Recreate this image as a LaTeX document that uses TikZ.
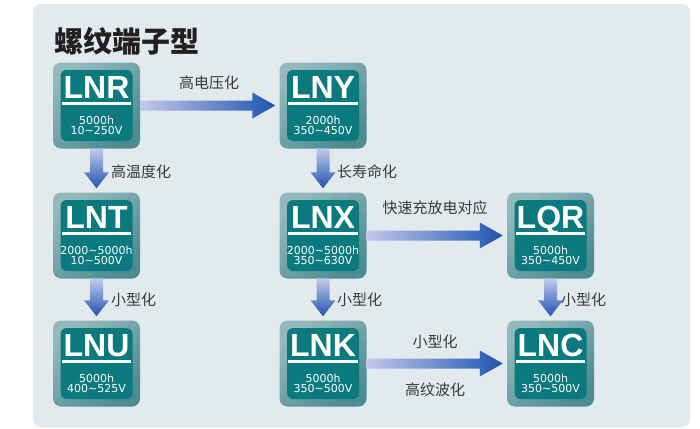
\documentclass[tikz,border=0pt]{standalone}
\usepackage{fontspec}
\setmainfont{Liberation Sans}
\newfontfamily\cjk{Noto Sans CJK SC}
\newfontfamily\dv{DejaVu Sans}
\usetikzlibrary{calc}
\definecolor{panel}{HTML}{E2EAED}
\definecolor{tealin}{HTML}{0B7A7F}
\definecolor{outlight}{HTML}{93B9BD}
\definecolor{outdark}{HTML}{4C8C91}
\definecolor{arrlight}{HTML}{C2C9EC}
\definecolor{arrdark}{HTML}{1E54B0}
\definecolor{lblcol}{HTML}{3A3A3A}
\definecolor{titlecol}{HTML}{231F20}
\tikzset{
  outerbox/.style={minimum width=87pt, minimum height=86pt, inner sep=0pt, rounded corners=8pt,
    top color=outlight, bottom color=outdark, shading angle=40},
  innerbox/.style={minimum width=72pt, minimum height=71pt, inner sep=0pt, rounded corners=6pt, fill=tealin},
  titletext/.style={inner sep=0pt, text=white, font=\fontsize{32}{32}\selectfont\bfseries},
  smalltext/.style={inner sep=0pt, text=white, font=\dv\fontsize{11}{11}\selectfont},
  lbl/.style={inner sep=0pt, text=lblcol, font=\cjk\fontsize{15}{15}\selectfont},
}
\newcommand\prodbox[6]{%
  \node[outerbox] (#1) at (#2,-#3) {};
  \node[innerbox] (#1-in) at (#1.center) {};
  \node[titletext, anchor=base] (#1-t) at ($(#1.center)+(0,7.5)$) {#4};
  \draw[white, line width=2.5pt] ($(#1-in.west)+(1.5,2)$) -- ($(#1-in.east)+(-1.5,2)$);
  \node[smalltext, anchor=base] (#1-a) at ($(#1.center)+(0,-18.5)$) {#5};
  \node[smalltext, anchor=base] (#1-b) at ($(#1.center)+(0,-29)$) {#6};
}
\newcommand\harrow[2]{%
  \shade[left color=arrlight, right color=arrdark] let \p1=(#1.east), \p2=(#2.west) in
    (\x1,\y1+5) -- (\x2-27,\y1+5) -- (\x2-27,\y1+13) -- (\x2-4,\y1) -- (\x2-27,\y1-13)
    -- (\x2-27,\y1-5) -- (\x1,\y1-5) -- cycle;
}
\newcommand\varrow[2]{%
  \shade[top color=arrlight, bottom color=arrdark] let \p1=(#1.south), \p2=(#2.north) in
    (\x1-6.5,\y1) -- (\x1+6.5,\y1) -- (\x1+6.5,\y2+20) -- (\x1+12.5,\y2+20) -- (\x1,\y2+4)
    -- (\x1-12.5,\y2+20) -- (\x1-6.5,\y2+20) -- cycle;
}
\newcommand\tl{\char`\~}
\begin{document}
\begin{tikzpicture}[x=1pt,y=1pt]
\useasboundingbox (0,0) rectangle (700,-428);
\fill[white] (0,0) rectangle (700,-428);
\fill[panel, rounded corners=8pt] (33,-4) rectangle (690,-427);
\node[anchor=west, inner sep=0pt, text=titlecol, font=\cjk\bfseries\fontsize{29}{29}\selectfont] (title) at (54,-41) {螺纹端子型};
\prodbox{lnr}{96.5}{105.5}{LNR}{5000h}{10\tl250V}
\prodbox{lny}{323}{105.5}{LNY}{2000h}{350\tl450V}
\prodbox{lnt}{96.5}{235.5}{LNT}{2000\tl5000h}{10\tl500V}
\prodbox{lnx}{323}{235.5}{LNX}{2000\tl5000h}{350\tl630V}
\prodbox{lqr}{550.5}{235.5}{LQR}{5000h}{350\tl450V}
\prodbox{lnu}{96.5}{363.5}{LNU}{5000h}{400\tl525V}
\prodbox{lnk}{323}{363.5}{LNK}{5000h}{350\tl500V}
\prodbox{lnc}{550.5}{363.5}{LNC}{5000h}{350\tl500V}
\harrow{lnr}{lny}
\harrow{lnx}{lqr}
\harrow{lnk}{lnc}
\varrow{lnr}{lnt}
\varrow{lny}{lnx}
\varrow{lnt}{lnu}
\varrow{lnx}{lnk}
\varrow{lqr}{lnc}
\node[lbl] (l1) at (209,-83) {高电压化};
\node[lbl, anchor=west] (l2) at (111,-172) {高温度化};
\node[lbl, anchor=west] (l3) at (337,-172) {长寿命化};
\node[lbl] (l4) at (435,-208) {快速充放电对应};
\node[lbl, anchor=west] (l5) at (111,-300) {小型化};
\node[lbl, anchor=west] (l6) at (337,-300) {小型化};
\node[lbl, anchor=west] (l7) at (561,-300) {小型化};
\node[lbl] (l8) at (435,-342) {小型化};
\node[lbl] (l9) at (435,-390) {高纹波化};
\end{tikzpicture}
\end{document}
